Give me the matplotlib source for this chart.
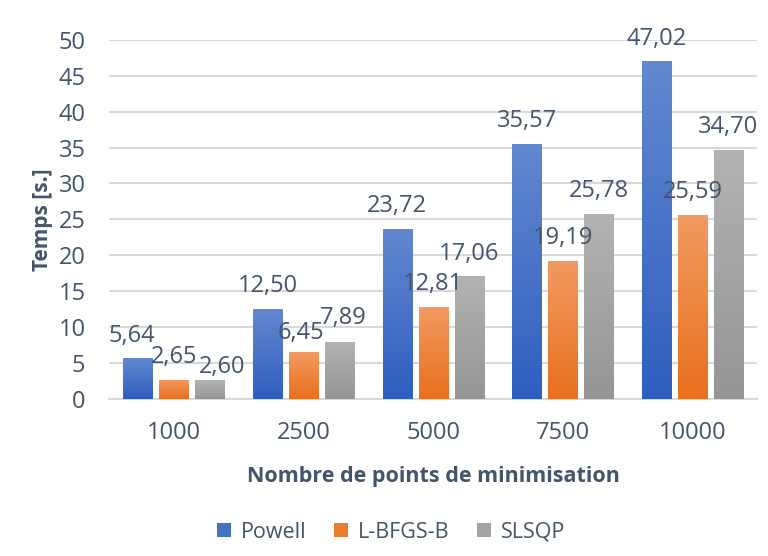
import numpy as np
import matplotlib
matplotlib.use("Agg")
import matplotlib.pyplot as plt
from matplotlib.colors import LinearSegmentedColormap

categories = ["1000", "2500", "5000", "7500", "10000"]
series_names = ["Powell", "L-BFGS-B", "SLSQP"]
powell = [5.64, 12.50, 23.72, 35.57, 47.02]
lbfgsb = [2.65, 6.45, 12.81, 19.19, 25.59]
slsqp = [2.60, 7.89, 17.06, 25.78, 34.70]
yticks = [0, 5, 10, 15, 20, 25, 30, 35, 40, 45, 50]

# label nudges (points) for labels that the original moved to avoid overlap
nudges = {(0, 0): (-4, 0), (2, 0): (9, -7), (1, 1): (-2, -2), (2, 1): (3, 1)}

plt.rcParams['font.family'] = ['Open Sans', 'DejaVu Sans']
txt = '#44546A'

fig = plt.figure(figsize=(7.68, 5.56), dpi=100)
ax = fig.add_axes([0.142, 0.283, 0.844, 0.645])

x = np.arange(len(categories))
w = 0.224
off = 0.278
base_colors = ['#4472C4', '#ED7D31', '#A5A5A5']
grads = [('#6388D0', '#2F5EBF'), ('#F29A60', '#E8701E'), ('#B3B3B3', '#959595')]

for i, (vals, name) in enumerate(zip([powell, lbfgsb, slsqp], series_names)):
    bars = ax.bar(x + (i - 1) * off, vals, w, color=base_colors[i], label=name, zorder=3)
    cmap = LinearSegmentedColormap.from_list('g%d' % i, [grads[i][1], grads[i][0]])
    for j, (b, v) in enumerate(zip(bars, vals)):
        bx, by = b.get_x(), b.get_y()
        bw, bh = b.get_width(), b.get_height()
        grad = np.linspace(0, 1, 256).reshape(-1, 1)
        im = ax.imshow(grad, extent=[bx, bx + bw, by, by + bh], origin='lower',
                       aspect='auto', cmap=cmap, zorder=3.5)
        im.set_clip_path(b)
        dx, dy = nudges.get((i, j), (0, 0))
        ax.annotate(f"{v:.2f}".replace('.', ','), (bx + bw / 2, v),
                    xytext=(dx, 12 + dy), textcoords='offset points', ha='center', va='baseline',
                    fontsize=17, color=txt, zorder=5)

ax.set_xlim(-0.5, len(categories) - 0.5)
ax.set_ylim(0, 50)
ax.set_yticks(yticks)
ax.set_xticks(x)
ax.set_xticklabels(categories)
ax.tick_params(axis='both', length=0, labelsize=17, labelcolor=txt)
ax.tick_params(axis='x', pad=16)
ax.tick_params(axis='y', pad=17)
ax.grid(axis='y', color='#D9D9D9', linewidth=1.5, zorder=0)
for s in ['top', 'right', 'left']:
    ax.spines[s].set_visible(False)
ax.spines['bottom'].set_color('#D9D9D9')
ax.spines['bottom'].set_linewidth(1.5)

ax.set_xlabel('Nombre de points de minimisation', fontsize=15.5, fontweight='bold', color=txt, labelpad=15)
ax.set_ylabel('Temps [s.]', fontsize=15, fontweight='bold', color=txt, labelpad=4)

handles, labels = ax.get_legend_handles_labels()
fig.legend(handles, labels, loc='center', bbox_to_anchor=(0.509, 0.043), ncol=3, frameon=False,
           fontsize=15.5, labelcolor=txt, handlelength=0.65, handleheight=0.65, handletextpad=0.45,
           columnspacing=1.3)

fig.savefig('out.png', dpi=100)
